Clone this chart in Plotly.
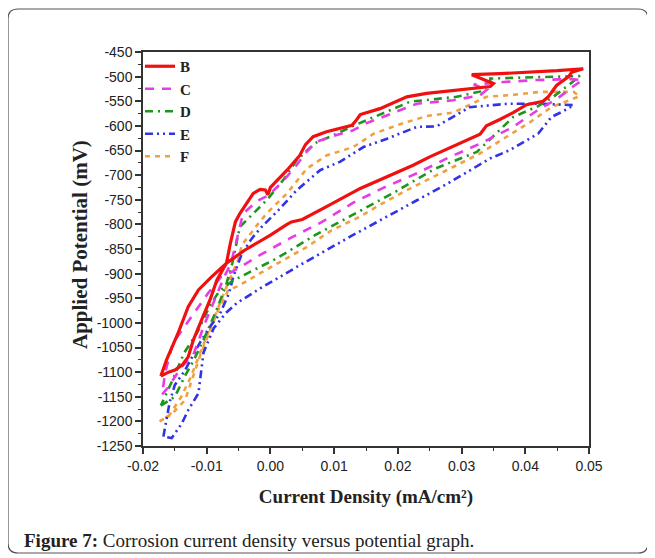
import plotly.graph_objects as go

# ---------------- data ----------------
x_B = [-0.0172, -0.0160, -0.0150, -0.0138, -0.0129, -0.0121, -0.0108, -0.0095, -0.0084, -0.0069,
       -0.0063, -0.0055, -0.0048, -0.0037, -0.0027, -0.0016, -0.0008, -0.0004, 0.0000, 0.0026,
       0.0046, 0.0055, 0.0067, 0.0088, 0.0109, 0.0128, 0.0135, 0.0141, 0.0172, 0.0198,
       0.0214, 0.0245, 0.0277, 0.0310, 0.0345, 0.0350, 0.0316, 0.0360, 0.0413, 0.0450,
       0.0491, 0.0473, 0.0468, 0.0449, 0.0436, 0.0428, 0.0402, 0.0381, 0.0360, 0.0339,
       0.0329, 0.0287, 0.0250, 0.0224, 0.0203, 0.0172, 0.0141, 0.0088, 0.0050, 0.0033,
       0.0026, 0.0000, -0.0016, -0.0040, -0.0055, -0.0069, -0.0092, -0.0113, -0.0129, -0.0145,
       -0.0163, -0.0172]
y_B = [-1108, -1100, -1096, -1085, -1069, -1035, -994, -954, -913, -879,
       -839, -795, -778, -757, -737, -729, -730, -740, -725, -690,
       -660, -638, -622, -612, -605, -599, -588, -577, -565, -551,
       -541, -534, -530, -525, -520, -514, -496, -494, -491, -488,
       -484, -491, -500, -518, -541, -550, -557, -573, -587, -600,
       -617, -641, -663, -680, -692, -708, -727, -764, -790, -795,
       -800, -822, -834, -852, -866, -879, -906, -933, -967, -1021,
       -1075, -1108]

x_C = [-0.0170, -0.0160, -0.0140, -0.0121, -0.0103, -0.0085, -0.0072, -0.0062, -0.0055, -0.0043,
       -0.0020, -0.0003, 0.0020, 0.0039, 0.0055, 0.0073, 0.0100, 0.0128, 0.0150, 0.0177,
       0.0230, 0.0287, 0.0329, 0.0340, 0.0319, 0.0366, 0.0418, 0.0470, 0.0490, 0.0475,
       0.0450, 0.0423, 0.0381, 0.0329, 0.0277, 0.0232, 0.0177, 0.0130, 0.0081, 0.0031,
       -0.0016, -0.0058, -0.0077, -0.0098, -0.0111, -0.0130, -0.0153, -0.0165, -0.0170]
y_C = [-1145, -1130, -1090, -1065, -1001, -945, -905, -880, -840, -778,
       -752, -741, -712, -683, -655, -632, -620, -610, -595, -582,
       -555, -548, -538, -526, -516, -511, -507, -505, -507, -520,
       -545, -565, -602, -636, -666, -695, -726, -756, -795, -828,
       -862, -895, -906, -940, -964, -1000, -1041, -1100, -1145]

x_D = [-0.0172, -0.0150, -0.0135, -0.0120, -0.0100, -0.0085, -0.0070, -0.0060, -0.0048, -0.0025,
       -0.0006, 0.0020, 0.0041, 0.0070, 0.0099, 0.0130, 0.0157, 0.0219, 0.0292, 0.0330,
       0.0345, 0.0345, 0.0418, 0.0486, 0.0470, 0.0444, 0.0420, 0.0381, 0.0324, 0.0258,
       0.0196, 0.0133, 0.0070, 0.0010, -0.0030, -0.0060, -0.0080, -0.0095, -0.0115, -0.0135,
       -0.0155, -0.0172]
y_D = [-1168, -1150, -1110, -1075, -1020, -975, -925, -880, -805, -775,
       -751, -710, -670, -635, -619, -600, -585, -551, -541, -530,
       -515, -504, -501, -499, -515, -541, -560, -582, -653, -687,
       -734, -778, -822, -869, -895, -915, -935, -965, -1020, -1060,
       -1120, -1168]

x_E = [-0.0168, -0.0158, -0.0150, -0.0134, -0.0111, -0.0095, -0.0079, -0.0065, -0.0058, -0.0045,
       -0.0030, -0.0016, 0.0015, 0.0041, 0.0078, 0.0109, 0.0146, 0.0183, 0.0230, 0.0261,
       0.0313, 0.0342, 0.0374, 0.0423, 0.0476, 0.0460, 0.0441, 0.0420, 0.0376, 0.0345,
       0.0277, 0.0230, 0.0201, 0.0125, 0.0046, -0.0016, -0.0053, -0.0070, -0.0089, -0.0105,
       -0.0113, -0.0129, -0.0139, -0.0155, -0.0168]
y_E = [-1231, -1160, -1126, -1096, -1041, -1008, -981, -940, -905, -860,
       -830, -808, -768, -731, -690, -673, -643, -626, -602, -601,
       -562, -558, -555, -555, -558, -570, -582, -616, -649, -666,
       -718, -751, -771, -825, -883, -930, -960, -980, -1011, -1060,
       -1143, -1177, -1204, -1234, -1231]

x_F = [-0.0174, -0.0160, -0.0140, -0.0125, -0.0110, -0.0095, -0.0080, -0.0070, -0.0050, -0.0045,
       -0.0020, -0.0006, 0.0026, 0.0057, 0.0088, 0.0130, 0.0162, 0.0198, 0.0245, 0.0287,
       0.0339, 0.0381, 0.0423, 0.0476, 0.0485, 0.0465, 0.0441, 0.0408, 0.0371, 0.0329,
       0.0292, 0.0250, 0.0209, 0.0175, 0.0135, 0.0096, 0.0057, -0.0016, -0.0050, -0.0066,
       -0.0082, -0.0111, -0.0126, -0.0134, -0.0155, -0.0174]
y_F = [-1200, -1190, -1150, -1110, -1060, -1010, -960, -930, -870, -842,
       -800, -778, -737, -687, -660, -643, -616, -599, -580, -573,
       -541, -537, -531, -531, -540, -550, -562, -592, -622, -656,
       -680, -707, -734, -758, -788, -812, -846, -899, -925, -933,
       -974, -1069, -1129, -1157, -1185, -1200]

series_names = ["B", "C", "D", "E", "F"]
x_ticks = [-0.02, -0.01, 0.00, 0.01, 0.02, 0.03, 0.04, 0.05]
y_ticks = list(range(-1250, -449, 50))

# ---------------- styling ----------------
styles = {
    "B": dict(color="#f01010", width=3.2, dash="solid"),
    "C": dict(color="#e63ce6", width=2.6, dash="9px,8px"),
    "D": dict(color="#1e961e", width=2.6, dash="8px,5px,2px,5px"),
    "E": dict(color="#3232e6", width=2.6, dash="8px,4px,2px,4px,2px,4px"),
    "F": dict(color="#f0a040", width=2.6, dash="5px,5px"),
}
data_map = {"B": (x_B, y_B), "C": (x_C, y_C), "D": (x_D, y_D), "E": (x_E, y_E), "F": (x_F, y_F)}

fig = go.Figure()
for name in ["F", "E", "D", "C", "B"]:
    xs, ys = data_map[name]
    fig.add_trace(go.Scatter(x=xs, y=ys, mode="lines", name=f"<b>{name}</b>", line=styles[name],
                             legendrank=series_names.index(name) + 1))

# page body has an 8px margin, so layout pixels are offset by -8
W, H = 655, 558
L, T = 135, 44
pw, ph = 446, 394
R, B = W - L - pw, H - T - ph

def px(xp):
    return (xp - L) / pw

def py(yp):
    return (T + ph - yp) / ph

tickfont = dict(family="Liberation Sans, Arial", size=14, color="#222")
serif = "Liberation Serif, Times New Roman"

fig.update_xaxes(range=[-0.02, 0.05], tickvals=x_ticks, ticktext=[f"{v:.2f}" for v in x_ticks],
                 showline=True, linecolor="#333", linewidth=1.5, mirror=True, ticks="outside",
                 ticklen=6, tickwidth=1.5, tickcolor="#333", showgrid=False, zeroline=False,
                 minor=dict(dtick=0.005, ticks="outside", ticklen=3, tickcolor="#333", tickwidth=1.2),
                 tickfont=tickfont,
                 title=dict(text="<b>Current Density (mA/cm²)</b>",
                            font=dict(family=serif, size=19, color="#222"), standoff=17))
fig.update_yaxes(range=[-1250, -450], tickvals=y_ticks, ticktext=[str(v) for v in y_ticks],
                 showline=True, linecolor="#333", linewidth=1.5, mirror=True, ticks="outside",
                 ticklen=6, tickwidth=1.5, tickcolor="#333", showgrid=False, zeroline=False,
                 minor=dict(dtick=25, ticks="outside", ticklen=3, tickcolor="#333", tickwidth=1.2),
                 tickfont=tickfont)

# y-axis title placed explicitly
fig.add_annotation(text="<b>Applied Potential (mV)</b>", textangle=-90,
                   xref="paper", yref="paper", x=px(72), y=py(237), xanchor="center", yanchor="middle",
                   showarrow=False, font=dict(family=serif, size=21, color="#222"))

# rounded outer frame
x0, x1, y0, y1, r = 0, 640, 1, 545, 10
def P(a, b):
    return f"{px(a):.5f},{py(b):.5f}"
path = (f"M {P(x0 + r, y0)} L {P(x1 - r, y0)} Q {P(x1, y0)} {P(x1, y0 + r)} "
        f"L {P(x1, y1 - r)} Q {P(x1, y1)} {P(x1 - r, y1)} L {P(x0 + r, y1)} "
        f"Q {P(x0, y1)} {P(x0, y1 - r)} L {P(x0, y0 + r)} Q {P(x0, y0)} {P(x0 + r, y0)} Z")
fig.add_shape(type="path", path=path, xref="paper", yref="paper",
              line=dict(color="#555", width=1.2), layer="below")

fig.add_annotation(text="<b>Figure 7:</b> Corrosion current density versus potential graph.",
                   xref="paper", yref="paper", x=px(14), y=py(532), xanchor="left", yanchor="middle",
                   showarrow=False, font=dict(family=serif, size=19, color="#222"))

fig.update_layout(
    width=W, height=H, margin=dict(l=L, r=R, t=T, b=B, autoexpand=False),
    paper_bgcolor="white", plot_bgcolor="white",
    legend=dict(x=-3 / pw, y=1 + 2 / ph, xanchor="left", yanchor="top", bgcolor="rgba(0,0,0,0)",
                font=dict(family=serif, size=15, color="#222"),
                traceorder="normal", itemwidth=30, borderwidth=0, tracegroupgap=0),
    showlegend=True,
)
fig.write_html("out.html")
